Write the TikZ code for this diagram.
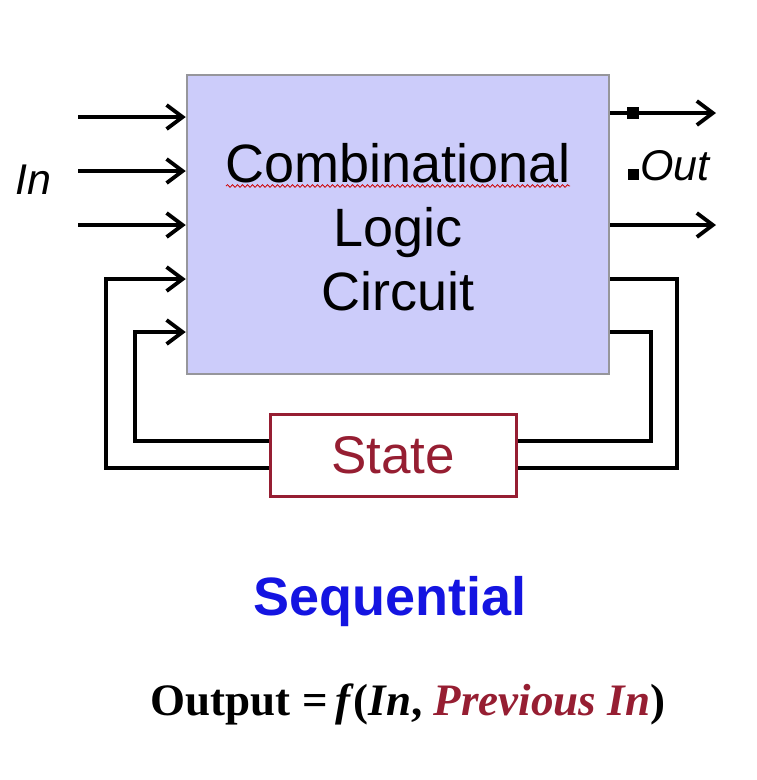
\documentclass[tikz,border=0pt]{standalone}
\usepackage{fontspec}
\setmainfont{Liberation Serif}
\setsansfont{Liberation Sans}
\usetikzlibrary{arrows.meta,decorations.pathmorphing}
\definecolor{boxfill}{RGB}{204,204,250}
\definecolor{boxedge}{RGB}{150,150,155}
\definecolor{statered}{RGB}{150,30,50}
\definecolor{seqblue}{RGB}{20,20,225}
\tikzset{
  wire/.style={line width=4.2pt,line join=miter},
  arr/.style={wire,-{Straight Barb[length=16pt,width=24pt,line width=3.8pt]}},
  clcbox/.style={draw=boxedge,line width=2.5pt,fill=boxfill,minimum width=422pt,minimum height=299pt,inner sep=0pt},
  statebox/.style={draw=statered,line width=3pt,fill=white,minimum width=246pt,minimum height=82pt,inner sep=0pt,text=statered,font=\sffamily\fontsize{53}{56}\selectfont},
  sq/.style={fill=black,inner sep=0pt,minimum size=12pt},
  lab/.style={font=\sffamily\itshape\fontsize{43}{48}\selectfont}
}
\begin{document}
\begin{tikzpicture}[x=1pt,y=-1pt]
\useasboundingbox (0,0) rectangle (756,780);
% main box
\node[clcbox] (clc) at (398,224.5) {};
\node[font=\sffamily\fontsize{54}{64}\selectfont,align=center] (clctext) at (398,227) {Combinational\\Logic\\Circuit};
\draw[red!80!black,line width=0.8pt,decorate,decoration={snake,amplitude=1.3pt,segment length=5pt}] (226,186) -- (570,186);
% inputs
\coordinate (i1) at (78,117);
\coordinate (i2) at (78,171);
\coordinate (i3) at (78,225);
\draw[arr] (i1) -- (i1 -| clc.west);
\draw[arr] (i2) -- (i2 -| clc.west);
\draw[arr] (i3) -- (i3 -| clc.west);
\node[lab,anchor=center] (in) at (33,180) {In};
% outputs
\coordinate (o1) at (716,113);
\coordinate (o2) at (716,225);
\draw[arr] (o1 -| clc.east) -- (o1);
\draw[arr] (o2 -| clc.east) -- (o2);
\node[sq] (s1) at (633,113) {};
\node[sq,minimum size=11pt] (s2) at (633,174) {};
\node[lab,anchor=west] (out) at (637,166) {Out};
% state
\node[statebox] (state) at (393,455) {State};
\coordinate (lo) at (106,468);
\coordinate (li) at (135,441);
\coordinate (ro) at (677,468);
\coordinate (ri) at (651,441);
\draw[arr] (lo -| state.west) -- (lo) |- (clc.west |- 0,279);
\draw[arr] (li -| state.west) -- (li) |- (clc.west |- 0,332);
\draw[wire] (clc.east |- 0,279) -| (ro) -- (ro -| state.east);
\draw[wire] (clc.east |- 0,332) -| (ri) -- (ri -| state.east);
% captions
\node[font=\sffamily\bfseries\fontsize{54}{60}\selectfont,text=seqblue] (seq) at (390,602) {Sequential};
\node[font=\rmfamily\bfseries\fontsize{45}{54}\selectfont] (formula) at (408,704) {Output =\,\textit{f}(\textit{In}, \textcolor{statered}{\textit{Previous In}})};
\end{tikzpicture}
\end{document}
